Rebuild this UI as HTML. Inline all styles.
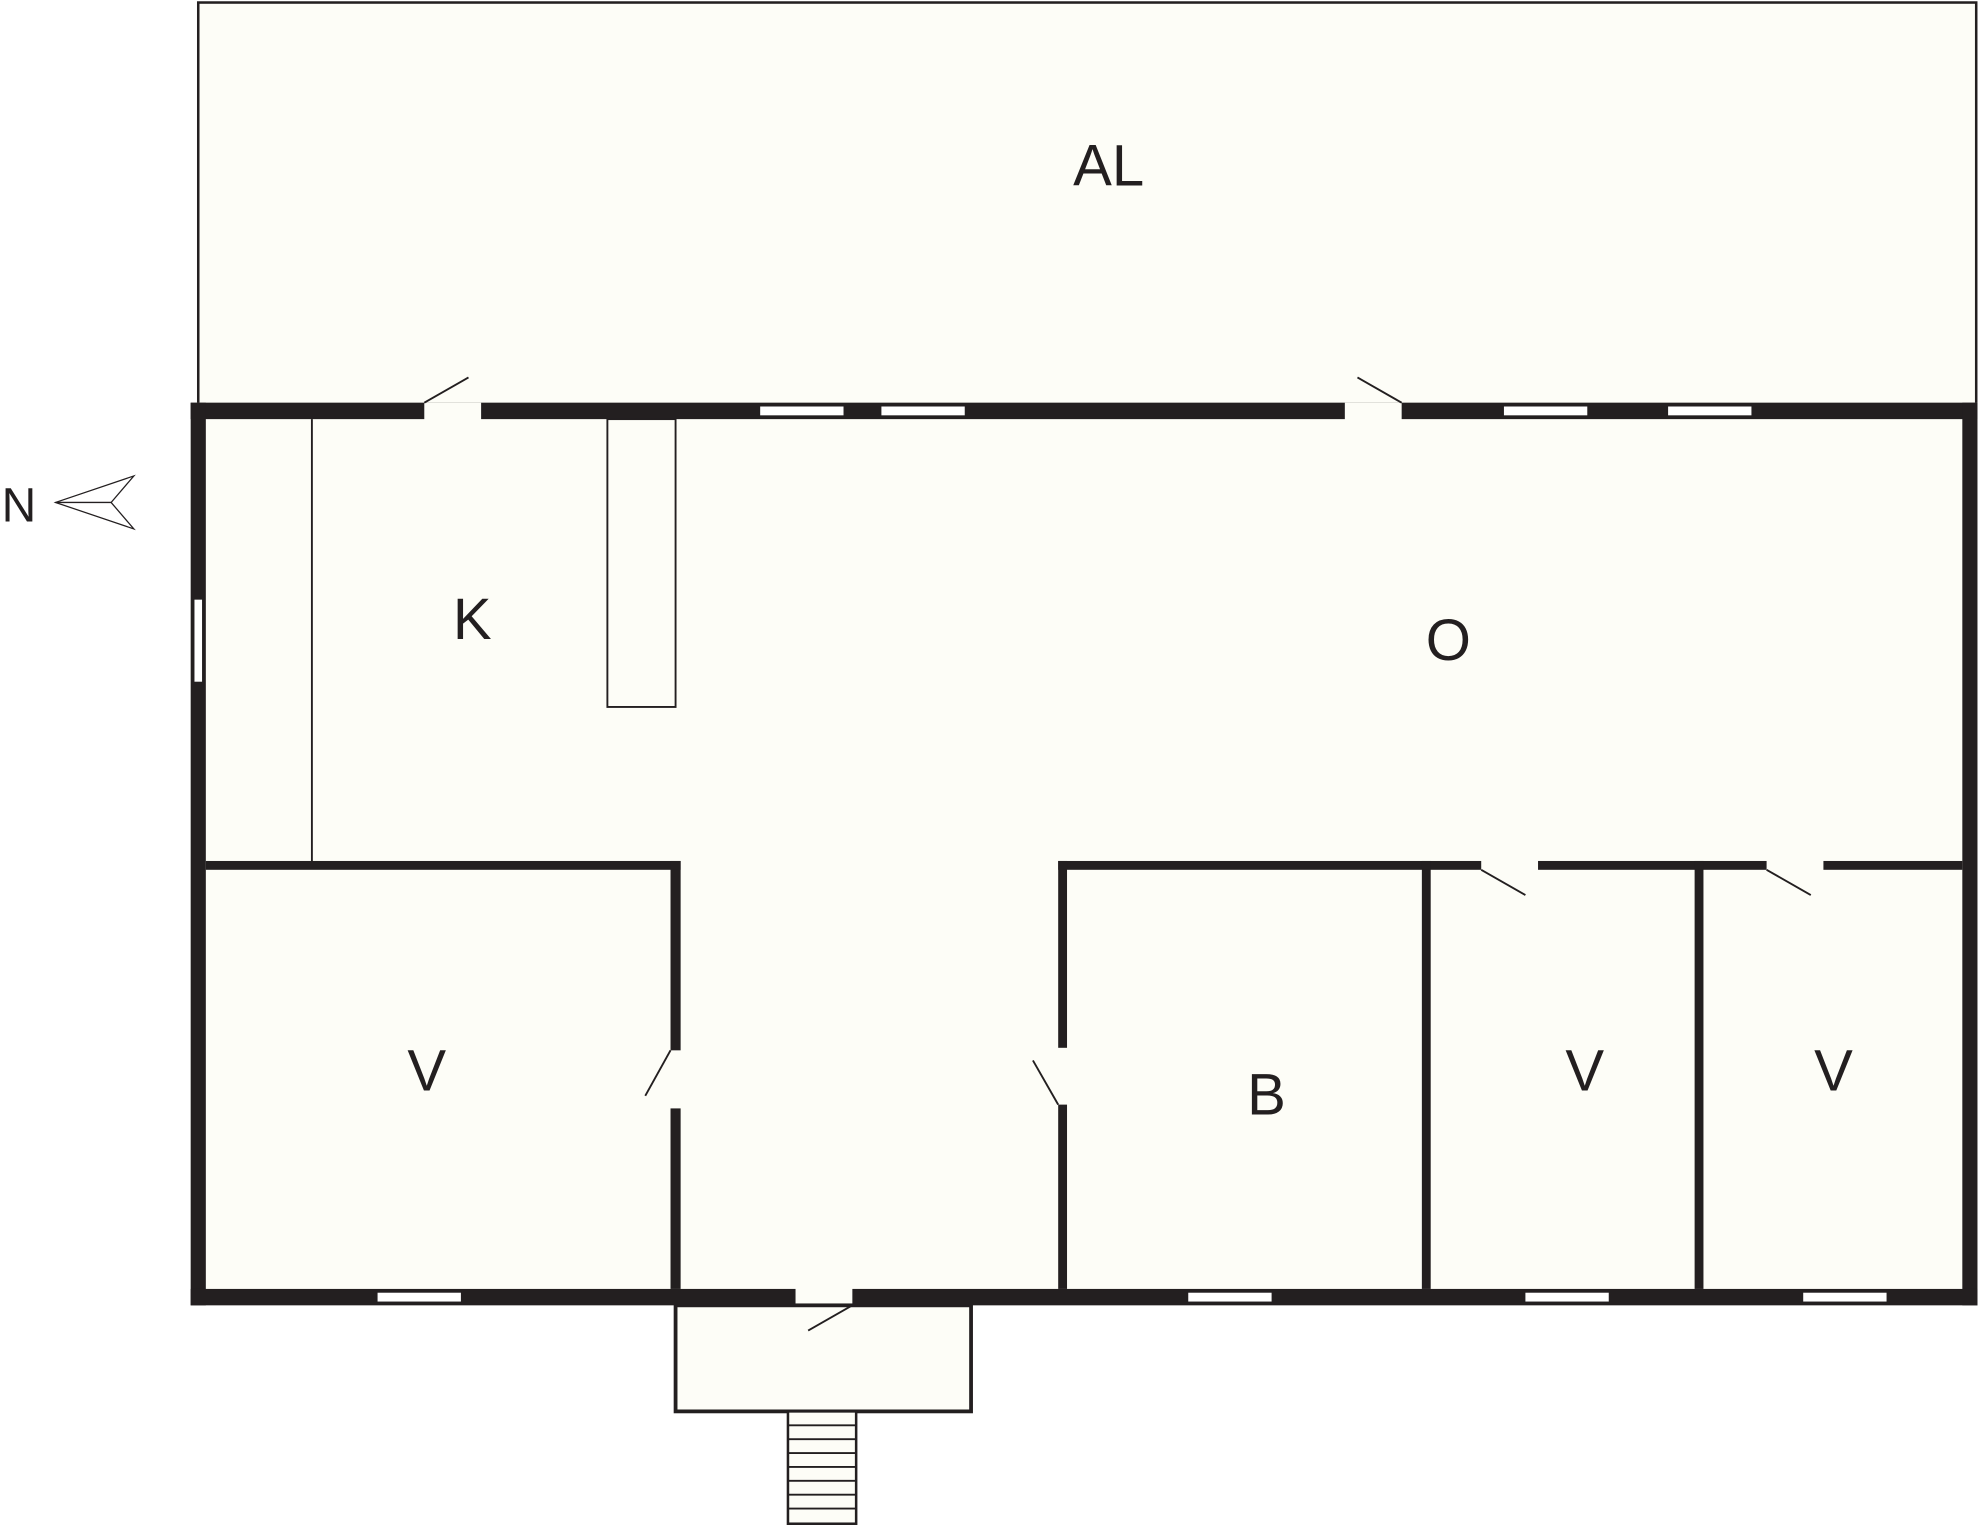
<!DOCTYPE html>
<html><head><meta charset="utf-8"><style>
html,body{margin:0;padding:0;background:#fff;}
svg{display:block;}
text{font-family:"Liberation Sans",sans-serif;fill:#231f20;}
</style></head><body>
<svg width="1980" height="1525" viewBox="0 0 1568 1208" preserveAspectRatio="none" xmlns="http://www.w3.org/2000/svg">
<rect width="1568" height="1208" fill="#fff"/>
<!-- AL -->
<rect x="157" y="2" width="1408" height="318" fill="#fdfdf7" stroke="#231f20" stroke-width="2"/>
<!-- house fill -->
<rect x="151" y="319" width="1415" height="715" fill="#fdfdf7"/>
<!-- porch -->
<rect x="535" y="1034" width="234" height="84" fill="#fdfdf7" stroke="#231f20" stroke-width="3"/>
<!-- stairs -->
<rect x="624" y="1118" width="54" height="89" fill="#fdfdf7" stroke="#231f20" stroke-width="2"/>
<g stroke="#231f20" stroke-width="1.5">
<line x1="624" y1="1129" x2="678" y2="1129"/><line x1="624" y1="1140" x2="678" y2="1140"/>
<line x1="624" y1="1151" x2="678" y2="1151"/><line x1="624" y1="1162" x2="678" y2="1162"/>
<line x1="624" y1="1173" x2="678" y2="1173"/><line x1="624" y1="1184" x2="678" y2="1184"/>
<line x1="624" y1="1195" x2="678" y2="1195"/>
</g>
<g fill="#231f20">
<!-- outer walls -->
<rect x="151" y="319" width="185" height="13"/>
<rect x="381" y="319" width="684" height="13"/>
<rect x="1110" y="319" width="456" height="13"/>
<rect x="151" y="319" width="12" height="715"/>
<rect x="1554" y="319" width="12" height="715"/>
<rect x="151" y="1021" width="479" height="13"/>
<rect x="675" y="1021" width="891" height="13"/>
<!-- interior -->
<rect x="163" y="682" width="376" height="7"/>
<rect x="531" y="682" width="8" height="150"/>
<rect x="531" y="878" width="8" height="143"/>
<rect x="838" y="682" width="335" height="7"/>
<rect x="1218" y="682" width="181" height="7"/>
<rect x="1444" y="682" width="110" height="7"/>
<rect x="838" y="682" width="7" height="148"/>
<rect x="838" y="875" width="7" height="146"/>
<rect x="1126" y="682" width="7" height="339"/>
<rect x="1342" y="682" width="7" height="339"/>
</g>
<!-- windows -->
<g fill="#fff">
<rect x="602" y="322" width="66" height="7"/><rect x="698" y="322" width="66" height="7"/>
<rect x="1191" y="322" width="66" height="7"/><rect x="1321" y="322" width="66" height="7"/>
<rect x="299" y="1024" width="66" height="7"/><rect x="941" y="1024" width="66" height="7"/>
<rect x="1208" y="1024" width="66" height="7"/><rect x="1428" y="1024" width="66" height="7"/>
<rect x="154" y="475" width="6" height="65"/>
</g>
<!-- thin lines -->
<g stroke="#231f20" stroke-width="1.5" fill="none">
<line x1="247" y1="332" x2="247" y2="682"/>
<rect x="481" y="332" width="54" height="228"/>
<line x1="336" y1="319" x2="371" y2="299"/>
<line x1="1075" y1="299" x2="1110" y2="319"/>
<line x1="531" y1="832" x2="511" y2="868"/>
<line x1="838" y1="875" x2="818" y2="840"/>
<line x1="1173" y1="689" x2="1208" y2="709"/>
<line x1="1399" y1="689" x2="1434" y2="709"/>
<line x1="675" y1="1034" x2="640" y2="1054"/>
</g>
<!-- compass -->
<g stroke="#231f20" stroke-width="1" fill="none">
<polygon points="44,398 106,377 88,398 106,419"/>
<line x1="44" y1="398" x2="88" y2="398"/>
</g>
<text x="15" y="413" font-size="38" text-anchor="middle">N</text>
<g font-size="46" text-anchor="middle">
<text x="878" y="147">AL</text>
<text x="374" y="506">K</text>
<text x="1147" y="523">O</text>
<text x="338" y="864">V</text>
<text x="1003" y="883">B</text>
<text x="1255" y="864">V</text>
<text x="1452" y="864">V</text>
</g>
</svg>
</body></html>
